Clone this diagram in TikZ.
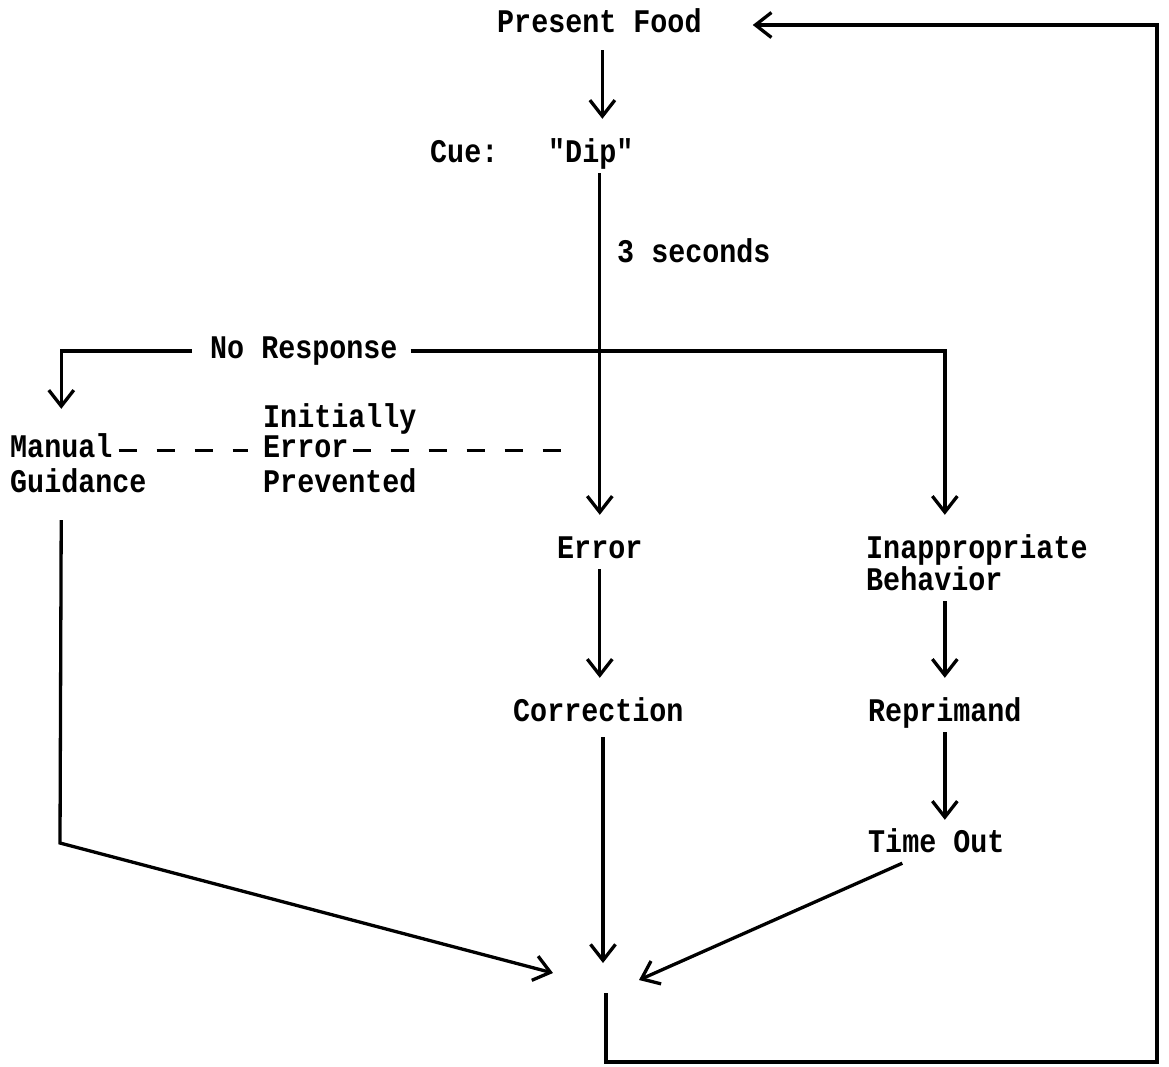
\documentclass[tikz,border=0pt]{standalone}
\usepackage{fontspec}
\setmonofont{Liberation Mono}[FakeStretch=0.86]
\usepackage{tikz}
\usetikzlibrary{positioning,arrows.meta,calc}

\begin{document}
\begin{tikzpicture}[
  x=1pt, y=-1pt,
  font=\ttfamily\bfseries\fontsize{33}{38}\selectfont,
  lbl/.style={anchor=base west, inner xsep=0pt, inner ysep=4pt, text height=21pt, text depth=7pt},
  wire/.style={line width=3.3pt, draw=black, line join=miter},
  arr/.style={wire, -{Straight Barb[length=16pt,width=25pt]}, shorten >=18pt},
  dashline/.style={line width=3pt, dash pattern=on 18pt off 20pt}
]
\useasboundingbox (0,0) rectangle (1169,1066);

% labels
\node[lbl] (pf)   at (497,32)  {Present Food};
\node[lbl] (cue)  at (430,162) {Cue:};
\node[lbl] (dip)  at (548,162) {"Dip"};
\node[lbl] (sec)  at (617,262) {3 seconds};
\node[lbl] (nr)   at (210,358) {No Response};
\node[lbl] (init) at (263,427) {Initially};
\node[lbl] (ierr) at (263,457) {Error};
\node[lbl] (prev) at (263,492) {Prevented};
\node[lbl] (man)  at (10,457)  {Manual};
\node[lbl] (gui)  at (10,492)  {Guidance};
\node[lbl] (err)  at (557,558) {Error};
\node[lbl] (inap) at (866,558) {Inappropriate};
\node[lbl] (beh)  at (866,590) {Behavior};
\node[lbl] (cor)  at (513,721) {Correction};
\node[lbl] (rep)  at (868,721) {Reprimand};
\node[lbl] (tout) at (868,852) {Time Out};

% free ends
\coordinate (tipG) at (553,973);
\coordinate (tipC) at (603,963);
\coordinate (tipT) at (639,980);
\coordinate (bend) at (60,843);
\coordinate (back) at (606,993);
\coordinate (corner) at (1157,1062);

% main column
\draw[arr, shorten <=7pt] ([xshift=3pt]pf.south) -- ([xshift=3pt]pf.south |- dip.north);
\draw[arr] (dip.south -| err.north) -- (err.north);
\draw[arr] (err.south) -- (err.south |- cor.north);
\draw[arr, shorten <=5pt, shorten >=0pt] (cor.south -| tipC) -- (tipC);

% no response branches
\draw[arr, shorten <=18pt, shorten >=23pt] (nr.west) -| (man.north);
\draw[arr, shorten <=13pt] (nr.east) -| (rep.north |- inap.north);

% error prevented
\draw[dashline, shorten <=6pt, shorten >=15pt] (man.east) -- (ierr.west);
\draw[dashline, shorten <=4pt, shorten >=20pt] (ierr.east) -- (ierr.east -| err.north);

% inappropriate behavior chain
\draw[arr] (beh.south -| rep.north) -- (rep.north);
\draw[arr, shorten >=7pt] (rep.south) -- (rep.south |- tout.north);
\draw[arr, shorten >=0pt] ([xshift=-34pt]tout.south) -- (tipT);

% guidance
\draw[arr, shorten <=17pt, shorten >=0pt] (gui.south -| man.north) -- (bend) -- (tipG);

% loop back
\draw[arr, shorten >=51pt] (back) |- (corner) |- (pf.east);
\end{tikzpicture}
\end{document}
